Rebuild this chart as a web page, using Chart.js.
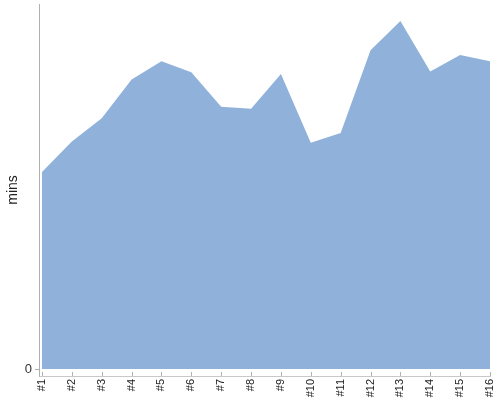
<!DOCTYPE html>
<html>
<head>
<meta charset="utf-8">
<script src="https://cdn.jsdelivr.net/npm/chart.js@4/dist/chart.umd.min.js"></script>
<style>
  html, body { margin: 0; padding: 0; background: #fff; }
  #wrap { width: 500px; height: 400px; }
</style>
</head>
<body>
<div id="wrap"><canvas id="c" width="500" height="400"></canvas></div>
<script>
const categories = ["#1","#2","#3","#4","#5","#6","#7","#8","#9","#10","#11","#12","#13","#14","#15","#16"];
const minsValues = [32.4, 37.4, 41.2, 47.6, 50.6, 48.8, 43.1, 42.8, 48.5, 37.2, 38.8, 52.4, 57.2, 48.9, 51.6, 50.6];
const yTickValues = [0];
const yAxisTitle = "mins";

const points = minsValues.map((v, i) => ({ x: i, y: v }));

const innerTicks = {
  id: 'innerTicks',
  afterDraw(chart) {
    const xs = chart.scales.x;
    const ctx = chart.ctx;
    ctx.save();
    ctx.strokeStyle = '#b0b0b0';
    ctx.lineWidth = 1;
    const yb = chart.chartArea.bottom;
    categories.forEach((c, i) => {
      const px = Math.round(xs.getPixelForValue(i)) + 0.5;
      ctx.beginPath();
      ctx.moveTo(px, yb);
      ctx.lineTo(px, yb - 4);
      ctx.stroke();
    });
    ctx.restore();
  }
};

new Chart(document.getElementById('c'), {
  type: 'line',
  data: {
    datasets: [{
      data: points,
      fill: 'origin',
      backgroundColor: '#90b2da',
      borderColor: '#90b2da',
      borderWidth: 0,
      pointRadius: 0,
      tension: 0
    }]
  },
  options: {
    responsive: false,
    animation: false,
    layout: { padding: 0 },
    plugins: { legend: { display: false }, tooltip: { enabled: false } },
    scales: {
      x: {
        type: 'linear',
        min: -0.1,
        max: categories.length - 1,
        afterBuildTicks: (s) => { s.ticks = categories.map((c, i) => ({ value: i })); },
        afterFit: (s) => { s.height = 24; s.paddingRight = 10; s.paddingLeft = 0; },
        ticks: {
          autoSkip: false,
          maxRotation: 90,
          minRotation: 90,
          padding: 3,
          color: '#222',
          font: { family: 'Liberation Sans', size: 11 },
          callback: (v) => categories[v]
        },
        grid: { display: false, drawTicks: false },
        border: { display: true, color: '#c8c8c8', width: 1 }
      },
      y: {
        type: 'linear',
        min: -1.15,
        max: 60,
        afterBuildTicks: (s) => { s.ticks = yTickValues.map(v => ({ value: v })); },
        afterFit: (s) => { s.width = 39; s.paddingTop = 4; s.paddingBottom = 0; },
        ticks: {
          padding: 3,
          color: '#333',
          font: { family: 'Liberation Sans', size: 13 }
        },
        grid: { display: true, drawOnChartArea: false, drawTicks: true, tickLength: 4, color: '#b0b0b0' },
        border: { display: true, color: '#b0b0b0', width: 1 },
        title: {
          display: true,
          text: yAxisTitle,
          color: '#222',
          font: { family: 'Liberation Sans', size: 14 },
          padding: { top: 5, bottom: 0 }
        }
      }
    }
  },
  plugins: [innerTicks]
});
</script>
</body>
</html>
